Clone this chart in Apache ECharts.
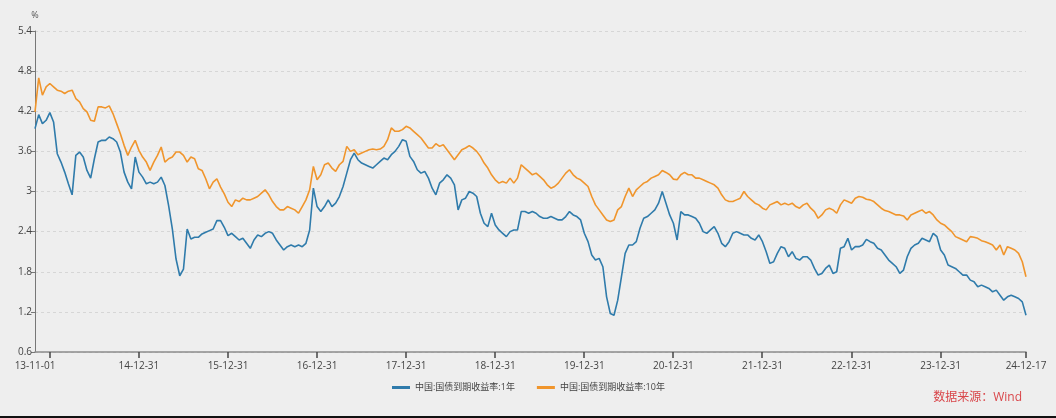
<!DOCTYPE html>
<html>
<head>
<meta charset="utf-8">
<script src="https://cdn.jsdelivr.net/npm/echarts@6/dist/echarts.min.js"></script>
<style>
  html, body { margin: 0; padding: 0; background: #eeeeee; }
  #chart { width: 1056px; height: 418px; }
</style>
</head>
<body>
<div id="chart"></div>
<script>
// half-month dates, 13-11-01 .. 24-12-17
const categories = ['13-11-01'];
for (let y = 2013; y <= 2024; y++) {
  for (let m = 1; m <= 12; m++) {
    if (y === 2013 && m < 11) continue;
    const yy = String(y).slice(2), mm = String(m).padStart(2, '0');
    if (y === 2024 && m === 12) { categories.push('24-12-17'); continue; }
    const last = new Date(y, m, 0).getDate();
    categories.push(yy + '-' + mm + '-15', yy + '-' + mm + '-' + last);
  }
}

const seriesNames = ['中国:国债到期收益率:1年', '中国:国债到期收益率:10年'];
const yTicks = [0.6, 1.2, 1.8, 2.4, 3, 3.6, 4.2, 4.8, 5.4];

// 1 year yield, %
const yield1y = [
  3.94, 4.15, 4.015, 4.065, 4.18,
  4.04, 3.565, 3.44, 3.29, 3.115, 2.95, 3.54, 3.59, 3.515, 3.315, 3.2, 3.49, 3.74, 3.765, 3.765, 3.815, 3.79, 3.74, 3.59, 3.29, 3.14, 3.04, 3.515, 3.29,
  3.215, 3.115, 3.14, 3.115, 3.14, 3.215, 3.09, 2.79, 2.44, 1.99, 1.74, 1.84, 2.44, 2.29, 2.315, 2.315, 2.365, 2.39, 2.415, 2.44, 2.565, 2.565, 2.465, 2.34,
  2.375, 2.325, 2.275, 2.3, 2.225, 2.15, 2.275, 2.35, 2.325, 2.375, 2.4, 2.375, 2.275, 2.2, 2.125, 2.175, 2.2, 2.175, 2.2, 2.175, 2.225, 2.425, 3.05, 2.775,
  2.7, 2.775, 2.875, 2.775, 2.825, 2.925, 3.075, 3.275, 3.475, 3.575, 3.475, 3.425, 3.4, 3.375, 3.35, 3.4, 3.45, 3.5, 3.475, 3.55, 3.6, 3.675, 3.775, 3.75,
  3.525, 3.45, 3.325, 3.275, 3.3, 3.2, 3.05, 2.95, 3.125, 3.175, 3.25, 3.2, 3.1, 2.725, 2.875, 2.9, 3.0, 2.975, 2.925, 2.675, 2.525, 2.475, 2.675, 2.5,
  2.425, 2.375, 2.325, 2.4, 2.425, 2.425, 2.7, 2.7, 2.675, 2.7, 2.675, 2.625, 2.6, 2.6, 2.625, 2.6, 2.575, 2.575, 2.625, 2.7, 2.65, 2.625, 2.575, 2.375,
  2.25, 2.05, 1.975, 2.0, 1.875, 1.425, 1.175, 1.15, 1.375, 1.725, 2.075, 2.2, 2.2, 2.25, 2.45, 2.6, 2.625, 2.675, 2.725, 2.825, 3.0, 2.825, 2.65, 2.525,
  2.275, 2.7, 2.65, 2.65, 2.625, 2.6, 2.525, 2.4, 2.375, 2.425, 2.475, 2.375, 2.225, 2.175, 2.25, 2.375, 2.4, 2.375, 2.35, 2.35, 2.3, 2.275, 2.35, 2.25,
  2.1, 1.925, 1.95, 2.075, 2.175, 2.15, 2.025, 2.1, 2.0, 1.975, 2.025, 2.025, 1.975, 1.85, 1.75, 1.775, 1.85, 1.9, 1.775, 1.8, 2.15, 2.175, 2.3, 2.125,
  2.175, 2.175, 2.2, 2.285, 2.25, 2.225, 2.15, 2.125, 2.05, 1.975, 1.925, 1.875, 1.775, 1.825, 2.025, 2.15, 2.2, 2.225, 2.3, 2.275, 2.25, 2.375, 2.325, 2.125,
  2.05, 1.9, 1.875, 1.85, 1.8, 1.75, 1.75, 1.675, 1.65, 1.575, 1.6, 1.575, 1.55, 1.5, 1.525, 1.45, 1.375, 1.425, 1.45, 1.425, 1.4, 1.35, 1.15
];

// 10 year yield, %
const yield10y = [
  4.19, 4.7, 4.44, 4.565, 4.615,
  4.565, 4.515, 4.5, 4.465, 4.5, 4.515, 4.39, 4.34, 4.24, 4.19, 4.065, 4.05, 4.265, 4.265, 4.25, 4.28, 4.165, 4.015, 3.865, 3.69, 3.54, 3.665, 3.765, 3.615,
  3.515, 3.44, 3.315, 3.44, 3.54, 3.665, 3.44, 3.49, 3.515, 3.59, 3.59, 3.54, 3.44, 3.515, 3.49, 3.34, 3.315, 3.19, 3.04, 3.14, 3.19, 3.065, 2.965, 2.84,
  2.775, 2.875, 2.85, 2.9, 2.875, 2.875, 2.9, 2.925, 2.975, 3.025, 2.95, 2.85, 2.775, 2.725, 2.725, 2.775, 2.75, 2.725, 2.675, 2.775, 2.875, 3.025, 3.375, 3.175,
  3.25, 3.4, 3.425, 3.35, 3.3, 3.4, 3.45, 3.675, 3.6, 3.625, 3.55, 3.575, 3.6, 3.625, 3.635, 3.625, 3.635, 3.675, 3.775, 3.95, 3.9, 3.9, 3.925, 3.975,
  3.95, 3.9, 3.85, 3.8, 3.725, 3.65, 3.65, 3.715, 3.675, 3.7, 3.625, 3.55, 3.475, 3.55, 3.625, 3.65, 3.685, 3.65, 3.6, 3.525, 3.425, 3.35, 3.25, 3.175,
  3.125, 3.15, 3.125, 3.2, 3.125, 3.2, 3.4, 3.35, 3.3, 3.25, 3.275, 3.225, 3.175, 3.1, 3.05, 3.075, 3.125, 3.2, 3.275, 3.325, 3.25, 3.2, 3.175, 3.125,
  3.075, 2.925, 2.8, 2.725, 2.65, 2.575, 2.55, 2.575, 2.725, 2.775, 2.925, 3.05, 2.925, 3.025, 3.075, 3.125, 3.15, 3.2, 3.225, 3.25, 3.315, 3.285, 3.25, 3.185,
  3.175, 3.25, 3.285, 3.25, 3.25, 3.2, 3.2, 3.175, 3.15, 3.125, 3.1, 3.05, 2.95, 2.875, 2.85, 2.85, 2.875, 2.9, 3.0, 2.925, 2.875, 2.825, 2.8, 2.75,
  2.725, 2.8, 2.825, 2.85, 2.8, 2.825, 2.8, 2.825, 2.775, 2.75, 2.8, 2.825, 2.75, 2.7, 2.6, 2.65, 2.725, 2.75, 2.725, 2.675, 2.8, 2.875, 2.85, 2.825,
  2.9, 2.925, 2.915, 2.885, 2.875, 2.85, 2.8, 2.75, 2.715, 2.7, 2.675, 2.65, 2.65, 2.635, 2.575, 2.65, 2.675, 2.7, 2.725, 2.675, 2.7, 2.65, 2.575, 2.525,
  2.5, 2.45, 2.4, 2.325, 2.3, 2.275, 2.25, 2.325, 2.315, 2.3, 2.265, 2.25, 2.225, 2.2, 2.125, 2.2, 2.05, 2.175, 2.15, 2.125, 2.075, 1.95, 1.725
];

const lastIdx = categories.length - 1;
const isYearEnd = (v) => v.slice(3) === '12-31';
const tickDates = categories.filter((v, i) => isYearEnd(v) || i === lastIdx);
const FONT = '"Open Sans", "Noto Sans CJK SC", sans-serif';

const chart = echarts.init(document.getElementById('chart'), null, { renderer: 'canvas' });
chart.setOption({
  backgroundColor: '#eeeeee',
  animation: false,
  textStyle: { fontFamily: FONT },
  grid: { left: 35, right: 30, top: 31, bottom: 66, containLabel: false },
  legend: {
    left: 387, top: 378,
    icon: 'rect', itemWidth: 18, itemHeight: 3, itemGap: 22,
    textStyle: { fontSize: 9, color: '#444', fontFamily: FONT },
    data: seriesNames
  },
  xAxis: {
    type: 'category',
    data: categories,
    boundaryGap: false,
    axisLine: { lineStyle: { color: '#8c8c8c', width: 1.5 } },
    axisTick: { show: false },
    axisLabel: {
      color: '#444', fontSize: 10, margin: 9,
      interval: (i, v) => i === 0 || i === lastIdx || (isYearEnd(v) && i !== 4),
      hideOverlap: false
    },
    splitLine: { show: false }
  },
  yAxis: {
    type: 'value',
    min: yTicks[0], max: yTicks[yTicks.length - 1], interval: 0.6,
    name: '%',
    nameLocation: 'end',
    nameGap: 11,
    nameTextStyle: { color: '#555', fontSize: 9, align: 'center' },
    axisLine: { show: true, lineStyle: { color: '#777' } },
    axisTick: { show: true, length: 4, lineStyle: { color: '#777' } },
    axisLabel: {
      color: '#444', fontSize: 10, margin: 3,
      formatter: (v) => String(Math.round(v * 10) / 10)
    },
    splitLine: { lineStyle: { color: '#d6d6d6', type: [3, 3], width: 1 } }
  },
  series: [
    {
      name: seriesNames[0], type: 'line', data: yield1y,
      showSymbol: false, symbol: 'none',
      lineStyle: { color: '#2f7bab', width: 1.6 },
      itemStyle: { color: '#2f7bab' }
    },
    {
      name: seriesNames[1], type: 'line', data: yield10y,
      showSymbol: false, symbol: 'none',
      lineStyle: { color: '#f0952c', width: 1.6 },
      itemStyle: { color: '#f0952c' }
    }
  ]
});

// x-axis ticks at year ends and at the last date, placed through the axis scale
const tickLines = tickDates.map((d) => {
  const p = chart.convertToPixel({ gridIndex: 0 }, [d, yTicks[0]]);
  return {
    type: 'rect', z: 100,
    shape: { x: Math.round(p[0]) - 0.75, y: p[1], width: 1.5, height: 6 },
    style: { fill: '#444' }
  };
});

chart.setOption({
  graphic: tickLines.concat([
    {
      type: 'text', right: 34, top: 392,
      style: { text: '数据来源：Wind', fill: '#d9464a', fontSize: 12, fontFamily: FONT }
    },
    {
      type: 'rect', left: 0, bottom: 0,
      shape: { width: 1056, height: 2 },
      style: { fill: '#111' }
    }
  ])
});
</script>
</body>
</html>
